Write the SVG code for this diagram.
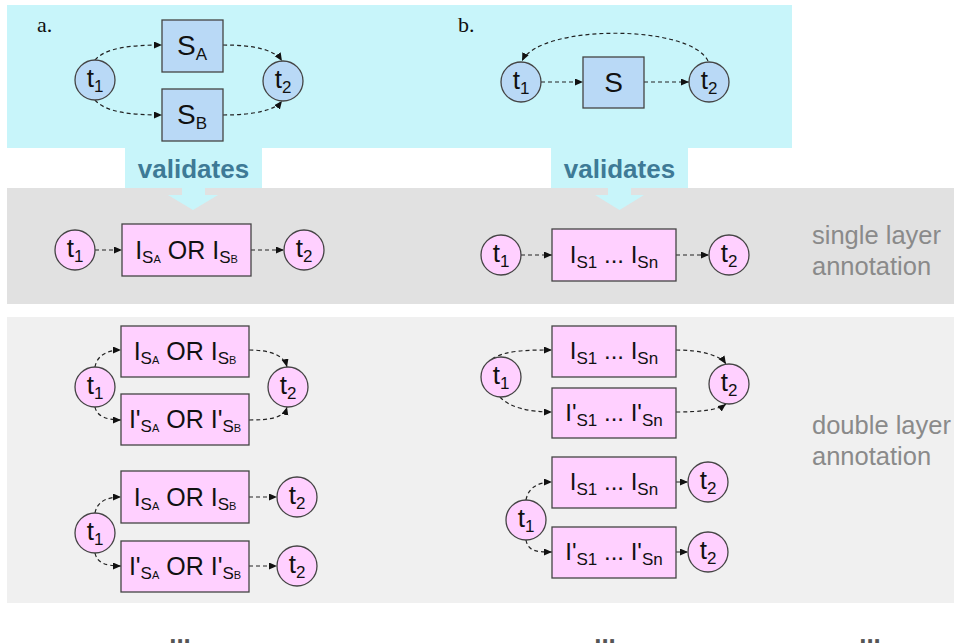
<svg xmlns="http://www.w3.org/2000/svg" width="954" height="644" viewBox="0 0 954 644">
<defs>
<marker id="ah" markerUnits="userSpaceOnUse" markerWidth="9" markerHeight="8" refX="8" refY="3.5" orient="auto">
<path d="M0,0 L8,3.5 L0,7 z" fill="#111"/>
</marker>
<style>
.bn{fill:#b9d9f6;stroke:#444;stroke-width:1.3}
.pk{fill:#ffd0ff;stroke:#444;stroke-width:1.3}
.tx{font-family:"Liberation Sans",Arial,sans-serif;font-size:25px;fill:#111;text-anchor:middle}
.tc{font-size:26px}
.big{font-size:28px}
.md{font-size:24px}
.sb{font-size:17px}
.ss{font-size:11px}
.cn{fill:none;stroke:#222;stroke-width:1.2;stroke-dasharray:4 3;marker-end:url(#ah)}
.val{font-family:"Liberation Sans",Arial,sans-serif;font-size:26px;font-weight:bold;fill:#3e7a96;text-anchor:middle}
.ann{font-family:"Liberation Sans",Arial,sans-serif;font-size:25.5px;fill:#8a8a8a}
.lab{font-family:"Liberation Serif","Times New Roman",serif;font-size:22px;fill:#111}
.dots{font-family:"Liberation Sans",Arial,sans-serif;font-size:26px;font-weight:bold;fill:#555;text-anchor:middle}
</style>
</defs>
<rect width="954" height="644" fill="#fff"/>
<!-- panels -->
<rect x="7" y="5" width="785" height="143" fill="#c8f5fa"/>
<rect x="7" y="188" width="947" height="116" fill="#e1e1e1"/>
<rect x="7" y="317" width="947" height="286" fill="#f0f0f0"/>
<!-- validates tabs -->
<g id="validates-a">
<path d="M125,148 H262 V188 H205 V195 H218 L193,210 L168,195 H182 V188 H125 Z" fill="#c8f5fa"/>
<text class="val" x="193.5" y="178">validates</text>
</g>
<g id="validates-b">
<path d="M551,148 H688 V188 H631 V195 H644 L619.5,210 L595,195 H608 V188 H551 Z" fill="#c8f5fa"/>
<text class="val" x="619.5" y="178">validates</text>
</g>
<text class="lab" x="37" y="32">a.</text>
<text class="lab" x="458" y="32">b.</text>
<text class="ann" x="812" y="244">single layer</text>
<text class="ann" x="812" y="275">annotation</text>
<text class="ann" x="812" y="434">double layer</text>
<text class="ann" x="812" y="465">annotation</text>

<!-- connectors -->
<g id="connectors">
<path class="cn" d="M95,60 C105,48 130,45 162,45"/>
<path class="cn" d="M223,45 C255,45 275,50 282,61"/>
<path class="cn" d="M95,100 C105,112 130,115 162,115"/>
<path class="cn" d="M223,115 C255,115 275,110 282,101"/>
<path class="cn" d="M541,82 L583,82"/>
<path class="cn" d="M644,82 L689,82"/>
<path class="cn" d="M708,61 C690,24 540,24 522,61"/>
<path class="cn" d="M95,250 L122,250"/>
<path class="cn" d="M251,250 L284,250"/>
<path class="cn" d="M521,255 L552,255"/>
<path class="cn" d="M676,255 L709,255"/>
<path class="cn" d="M95,367 C97,355 108,350 121,350"/>
<path class="cn" d="M249,350 C270,350 284,355 287,367"/>
<path class="cn" d="M95,407 C97,417 108,420 121,420"/>
<path class="cn" d="M249,420 C270,420 284,418 287,407"/>
<path class="cn" d="M95,513 C97,502 106,497 121,497"/>
<path class="cn" d="M95,553 C97,563 106,566 121,566"/>
<path class="cn" d="M249,497 L277,497"/>
<path class="cn" d="M249,566 L277,566"/>
<path class="cn" d="M492,359 C505,350 530,350 552,350"/>
<path class="cn" d="M676,350 C700,350 720,355 726,364"/>
<path class="cn" d="M500,397 C510,408 530,412 552,412"/>
<path class="cn" d="M676,412 C700,412 718,410 726,404"/>
<path class="cn" d="M526,500 C528,488 538,482 552,482"/>
<path class="cn" d="M526,540 C528,552 538,552 552,552"/>
<path class="cn" d="M676,482 L688,482"/>
<path class="cn" d="M676,552 L688,552"/>
</g>

<!-- a. top -->
<g id="a-t1"><circle class="bn" cx="95" cy="80" r="20"/><text class="tx tc" x="95" y="87">t<tspan class="sb" dy="5">1</tspan></text></g>
<g id="a-SA"><rect class="bn" x="162" y="20" width="61" height="52"/><text class="tx big" x="192" y="55">S<tspan class="sb" dy="5">A</tspan></text></g>
<g id="a-SB"><rect class="bn" x="162" y="89" width="61" height="52"/><text class="tx big" x="192" y="124">S<tspan class="sb" dy="5">B</tspan></text></g>
<g id="a-t2"><circle class="bn" cx="283" cy="81" r="20"/><text class="tx tc" x="283" y="88">t<tspan class="sb" dy="5">2</tspan></text></g>

<!-- b. top -->
<g id="b-t1"><circle class="bn" cx="521" cy="82" r="20"/><text class="tx tc" x="521" y="89">t<tspan class="sb" dy="5">1</tspan></text></g>
<g id="b-S"><rect class="bn" x="583" y="57" width="61" height="51"/><text class="tx big" x="613.5" y="92">S</text></g>
<g id="b-t2"><circle class="bn" cx="709" cy="82" r="20"/><text class="tx tc" x="709" y="89">t<tspan class="sb" dy="5">2</tspan></text></g>

<!-- single layer a -->
<g id="sa-t1"><circle class="pk" cx="75" cy="250" r="20"/><text class="tx tc" x="75" y="257">t<tspan class="sb" dy="5">1</tspan></text></g>
<g id="sa-box"><rect class="pk" x="122" y="224" width="129" height="52"/><text class="tx" x="186.5" y="259">I<tspan class="sb" dy="4">S</tspan><tspan class="ss">A</tspan><tspan dy="-4"> OR I</tspan><tspan class="sb" dy="4">S</tspan><tspan class="ss">B</tspan></text></g>
<g id="sa-t2"><circle class="pk" cx="304" cy="250" r="20"/><text class="tx tc" x="304" y="257">t<tspan class="sb" dy="5">2</tspan></text></g>

<!-- single layer b -->
<g id="sb-t1"><circle class="pk" cx="501" cy="255" r="20"/><text class="tx tc" x="501" y="262">t<tspan class="sb" dy="5">1</tspan></text></g>
<g id="sb-box"><rect class="pk" x="552" y="229" width="124" height="52"/><text class="tx md" x="614" y="263">I<tspan class="sb" dy="5">S1</tspan><tspan dy="-5"> ... I</tspan><tspan class="sb" dy="5">Sn</tspan></text></g>
<g id="sb-t2"><circle class="pk" cx="729" cy="255" r="20"/><text class="tx tc" x="729" y="262">t<tspan class="sb" dy="5">2</tspan></text></g>

<!-- double layer a, variant 1 -->
<g id="da1-t1"><circle class="pk" cx="95" cy="387" r="20"/><text class="tx tc" x="95" y="394">t<tspan class="sb" dy="5">1</tspan></text></g>
<g id="da1-box1"><rect class="pk" x="121" y="326" width="128" height="51"/><text class="tx" x="185" y="360">I<tspan class="sb" dy="4">S</tspan><tspan class="ss">A</tspan><tspan dy="-4"> OR I</tspan><tspan class="sb" dy="4">S</tspan><tspan class="ss">B</tspan></text></g>
<g id="da1-box2"><rect class="pk" x="121" y="394" width="128" height="51"/><text class="tx" x="185" y="428">I'<tspan class="sb" dy="4">S</tspan><tspan class="ss">A</tspan><tspan dy="-4"> OR I'</tspan><tspan class="sb" dy="4">S</tspan><tspan class="ss">B</tspan></text></g>
<g id="da1-t2"><circle class="pk" cx="288" cy="387" r="20"/><text class="tx tc" x="288" y="394">t<tspan class="sb" dy="5">2</tspan></text></g>

<!-- double layer a, variant 2 -->
<g id="da2-t1"><circle class="pk" cx="95" cy="533" r="20"/><text class="tx tc" x="95" y="540">t<tspan class="sb" dy="5">1</tspan></text></g>
<g id="da2-box1"><rect class="pk" x="121" y="471" width="128" height="52"/><text class="tx" x="185" y="506">I<tspan class="sb" dy="4">S</tspan><tspan class="ss">A</tspan><tspan dy="-4"> OR I</tspan><tspan class="sb" dy="4">S</tspan><tspan class="ss">B</tspan></text></g>
<g id="da2-box2"><rect class="pk" x="121" y="541" width="128" height="51"/><text class="tx" x="185" y="575">I'<tspan class="sb" dy="4">S</tspan><tspan class="ss">A</tspan><tspan dy="-4"> OR I'</tspan><tspan class="sb" dy="4">S</tspan><tspan class="ss">B</tspan></text></g>
<g id="da2-t2a"><circle class="pk" cx="297" cy="497" r="20"/><text class="tx tc" x="297" y="504">t<tspan class="sb" dy="5">2</tspan></text></g>
<g id="da2-t2b"><circle class="pk" cx="297" cy="566" r="20"/><text class="tx tc" x="297" y="573">t<tspan class="sb" dy="5">2</tspan></text></g>

<!-- double layer b, variant 1 -->
<g id="db1-t1"><circle class="pk" cx="501" cy="377" r="20"/><text class="tx tc" x="501" y="384">t<tspan class="sb" dy="5">1</tspan></text></g>
<g id="db1-box1"><rect class="pk" x="552" y="326" width="124" height="51"/><text class="tx md" x="614" y="359">I<tspan class="sb" dy="5">S1</tspan><tspan dy="-5"> ... I</tspan><tspan class="sb" dy="5">Sn</tspan></text></g>
<g id="db1-box2"><rect class="pk" x="552" y="388" width="124" height="50"/><text class="tx md" x="614" y="421">I'<tspan class="sb" dy="5">S1</tspan><tspan dy="-5"> ... I'</tspan><tspan class="sb" dy="5">Sn</tspan></text></g>
<g id="db1-t2"><circle class="pk" cx="729" cy="384" r="20"/><text class="tx tc" x="729" y="391">t<tspan class="sb" dy="5">2</tspan></text></g>

<!-- double layer b, variant 2 -->
<g id="db2-t1"><circle class="pk" cx="526" cy="520" r="20"/><text class="tx tc" x="526" y="527">t<tspan class="sb" dy="5">1</tspan></text></g>
<g id="db2-box1"><rect class="pk" x="552" y="457" width="124" height="51"/><text class="tx md" x="614" y="490">I<tspan class="sb" dy="5">S1</tspan><tspan dy="-5"> ... I</tspan><tspan class="sb" dy="5">Sn</tspan></text></g>
<g id="db2-box2"><rect class="pk" x="552" y="527" width="124" height="51"/><text class="tx md" x="614" y="560">I'<tspan class="sb" dy="5">S1</tspan><tspan dy="-5"> ... I'</tspan><tspan class="sb" dy="5">Sn</tspan></text></g>
<g id="db2-t2a"><circle class="pk" cx="708" cy="482" r="20"/><text class="tx tc" x="708" y="489">t<tspan class="sb" dy="5">2</tspan></text></g>
<g id="db2-t2b"><circle class="pk" cx="708" cy="552" r="20"/><text class="tx tc" x="708" y="559">t<tspan class="sb" dy="5">2</tspan></text></g>

<!-- ellipses at the bottom edge -->
<text class="dots" x="180" y="643">...</text>
<text class="dots" x="605" y="643">...</text>
<text class="dots" x="870" y="643">...</text>
</svg>
